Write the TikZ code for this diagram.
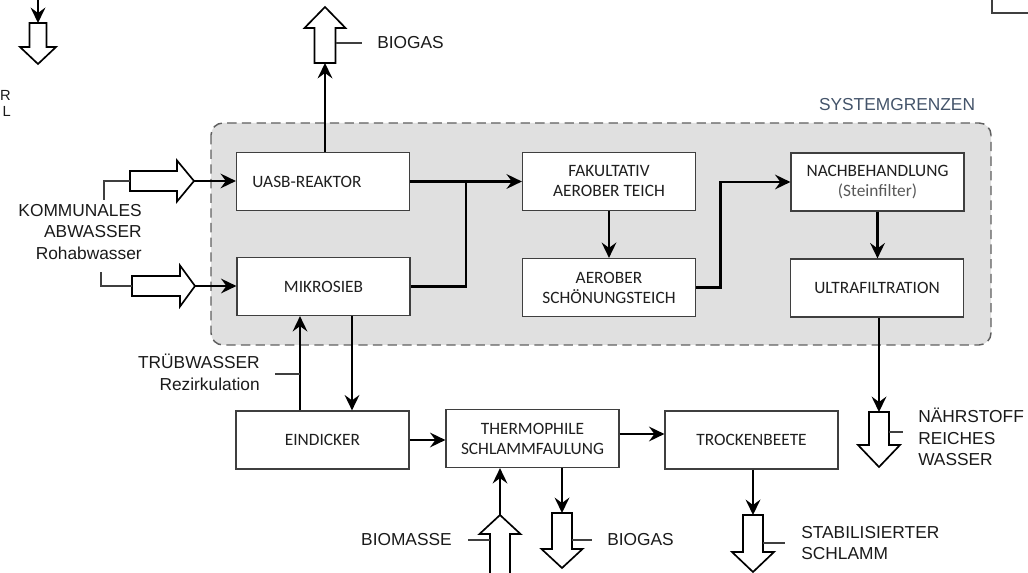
\documentclass[tikz,border=0pt]{standalone}
\usepackage{fontspec}
\setmainfont{Liberation Sans}
\newfontfamily\calfont{Carlito}
\usetikzlibrary{arrows.meta,calc}
\definecolor{bgfill}{HTML}{E0E0E0}
\definecolor{dashc}{HTML}{5F5F5F}
\definecolor{boxline}{HTML}{3F3F3F}
\definecolor{boxtext}{HTML}{1F1F1F}
\definecolor{sysblue}{HTML}{44546A}
\definecolor{lbl}{HTML}{1A1A1A}
\definecolor{steinc}{HTML}{595959}
% vertical hollow arrow: name, x, tail y, base y, tip y, shaft half, head half
\newcommand\hollowv[7]{%
  \draw[hollow] (#2-#6,#3) -- (#2+#6,#3) -- (#2+#6,#4) -- (#2+#7,#4) -- (#2,#5) -- (#2-#7,#4) -- (#2-#6,#4) -- cycle;
  \coordinate (#1-tail) at (#2,#3);
  \coordinate (#1-tip) at (#2,#5);
}
% horizontal hollow arrow: name, y, tail x, base x, tip x, shaft half, head half
\newcommand\hollowh[7]{%
  \draw[hollow] (#3,#2-#6) -- (#3,#2+#6) -- (#4,#2+#6) -- (#4,#2+#7) -- (#5,#2) -- (#4,#2-#7) -- (#4,#2-#6) -- cycle;
  \coordinate (#1-tail) at (#3,#2);
  \coordinate (#1-tip) at (#5,#2);
}
\begin{document}
\begin{tikzpicture}[x=0.75pt,y=-0.75pt,
  flow/.style={line width=2.1pt,-{Stealth[length=11.5pt,width=11pt,inset=4pt]}},
  plain/.style={line width=2.1pt},
  hollow/.style={draw=black,fill=white,line width=1.25pt,line join=miter},
  leader/.style={draw=boxline,line width=0.8pt},
  box/.style={draw=boxline,fill=white,line width=0.9pt,minimum width=129.75pt,minimum height=43.5pt,inner sep=0pt,align=center,font=\calfont\fontsize{13}{15}\selectfont,text=boxtext},
  lab/.style={inner sep=0pt,font=\fontsize{13}{16}\selectfont,text=lbl},
]
\useasboundingbox (0,0) rectangle (1028,573);
\clip (0,0) rectangle (1028,573);

% system boundary
\draw[draw=dashc,fill=bgfill,line width=1.1pt,dash pattern=on 7pt off 4pt,rounded corners=9pt] (211,123) rectangle (991,345);
\node[lab,text=sysblue] (sys) at (897,105) {SYSTEMGRENZEN};

% boxes
\node[box] (uasb) at (323,181.5) {UASB-REAKTOR\hspace*{24pt}};
\node[box] (mikro) at (323.5,286.5) {MIKROSIEB};
\node[box] (fak) at (609,181.5) {FAKULTATIV\\AEROBER TEICH};
\node[box] (aer) at (609,287.5) {AEROBER\\SCHÖNUNGSTEICH};
\node[box] (nach) at (877.5,182) {NACHBEHANDLUNG\\{\color{steinc}(Steinfilter)}};
\node[box] (ultra) at (877,288) {ULTRAFILTRATION};
\node[box] (eind) at (322.5,440) {EINDICKER};
\node[box] (thermo) at (532.5,438.5) {THERMOPHILE\\SCHLAMMFAULUNG};
\node[box] (trock) at (751.5,440) {TROCKENBEETE};

% hollow arrows
\hollowv{bg1}{325}{63}{28}{7}{10.5}{20.5}
\hollowh{in1}{181}{130}{177}{194}{10}{20.5}
\hollowh{in2}{286}{132}{180}{195}{10}{20.5}
\hollowv{nw}{879}{412}{445}{467}{10}{21}
\hollowv{bm}{500}{580}{534}{515}{10}{20.5}
\hollowv{bg2}{562}{513}{549}{568}{10}{20.5}
\hollowv{st}{753}{515}{552}{572}{10}{21}
\hollowv{tl}{38}{23}{47}{64}{8.5}{18}

% flows
\draw[flow] (bg1-tail |- uasb.north) -- (bg1-tail);
\draw[flow] (in1-tip) -- (in1-tip -| uasb.west);
\draw[flow] (in2-tip) -- (in2-tip -| mikro.west);
\draw[flow] (uasb.east) -- (fak.west);
\coordinate (jct) at ($(uasb.east)!0.5!(fak.west)$);
\draw[plain] (mikro.east) -| (jct);
\draw[flow] (fak.south) -- (aer.north);
\draw[flow] (aer.east) -- ++(24,0) |- (nach.west);
\draw[flow] (nach.south) -- (nach.south |- ultra.north);
\draw[flow] (nw-tail |- ultra.south) -- (nw-tail);
\coordinate (rz) at ($(eind.north)+(-22.5,0)$);
\draw[flow] (rz) -- (rz |- mikro.south);
\coordinate (dn) at ($(mikro.south)+(28.5,0)$);
\draw[flow] (dn) -- (dn |- eind.north);
\draw[flow] (eind.east) -- (eind.east -| thermo.west);
\coordinate (th) at ($(thermo.east)+(0,-4.5)$);
\draw[flow] (th) -- (th -| trock.west);
\draw[flow] (bm-tip) -- (bm-tip |- thermo.south);
\draw[flow] (bg2-tail |- thermo.south) -- (bg2-tail);
\draw[flow] (st-tail |- trock.south) -- (st-tail);
\coordinate (tltop) at (38,-5);
\draw[flow] (tltop) -- (tl-tail);

% labels
\node[lab,anchor=west] (biogas1) at (377,43) {BIOGAS};
\node[lab,anchor=north east,align=right] (kom) at (142,204) {KOMMUNALES\\ABWASSER\\Rohabwasser};
\node[lab,anchor=north east,align=right] (trub) at (260,354) {TRÜBWASSER\\Rezirkulation};
\node[lab,anchor=north west,align=left] (naehr) at (918,408) {NÄHRSTOFF\\REICHES\\WASSER};
\node[lab,anchor=east] (bmlab) at (452,540) {BIOMASSE};
\node[lab,anchor=west] (bg2lab) at (607,540) {BIOGAS};
\node[lab,anchor=north west,align=left] (stlab) at (801,526) {STABILISIERTER\\SCHLAMM};
\node[lab,anchor=east,font=\fontsize{11}{13}\selectfont] (frR) at (11,95) {R};
\node[lab,anchor=east,font=\fontsize{11}{13}\selectfont] (frL) at (11,111) {L};

% leader lines
\draw[leader] (in1-tail) -| (104,200);
\draw[leader] (in2-tail) -| (101,272);
\draw[leader] (335.5,43) -- (362,43);
\draw[leader] (275,374) -- (rz |- 0,374);
\draw[leader] (889,432) -- (903,432);
\draw[leader] (468,540) -- (490,540);
\draw[leader] (572,540) -- (592,540);
\draw[leader] (763,543) -- (785,543);

% corner fragment top right
\draw[draw=boxline,line width=1pt] (992,-3) |- (1031,13);
\end{tikzpicture}
\end{document}
